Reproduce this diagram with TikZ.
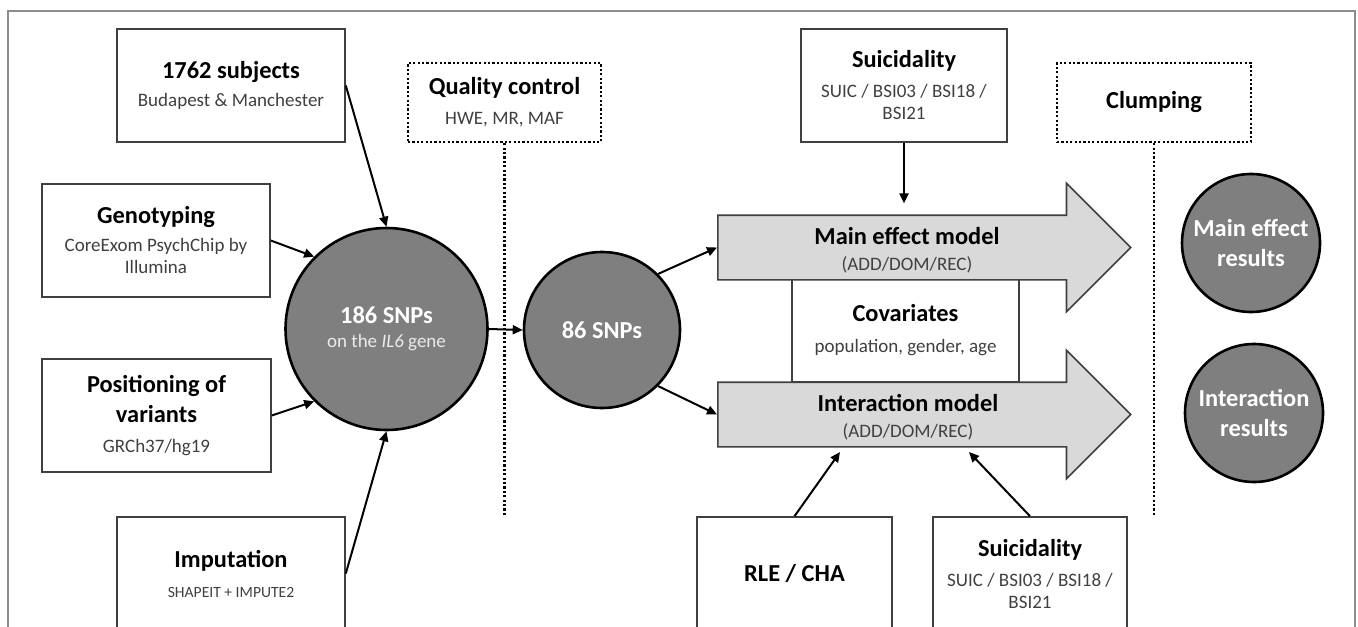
\documentclass[tikz,border=0pt]{standalone}
\usepackage{fontspec}
\setmainfont{Carlito}
\usetikzlibrary{%
  arrows.meta,%
  shapes.arrows%
}

\definecolor{framegray}{HTML}{8C8C8C}
\definecolor{boxline}{HTML}{404040}
\definecolor{subgray}{HTML}{404040}
\definecolor{snpfill}{HTML}{7F7F7F}
\definecolor{modelfill}{HTML}{D9D9D9}

\newcommand{\ttl}[1]{{\bfseries #1}}
\newcommand{\subtxt}[1]{{\fontsize{9.5}{11}\selectfont\color{subgray}#1}}

\begin{document}
\begin{tikzpicture}[x=0.5pt,y=-0.5pt,
    every node/.style={font=\fontsize{12.2}{14}\selectfont, align=center, inner sep=0pt},
    infobox/.style={rectangle, draw=boxline, line width=0.8pt, fill=white, minimum height=56.5pt},
    qcbox/.style={rectangle, draw=black, line width=1.1pt, dash pattern=on 1.1pt off 1.1pt, minimum height=39.5pt},
    qcline/.style={line width=1.1pt, dash pattern=on 1.1pt off 1.1pt},
    snp/.style={circle, draw=black, line width=1.3pt, fill=snpfill, text=white, font=\fontsize{12.2}{14}\selectfont\bfseries},
    model/.style={single arrow, draw=boxline, line width=0.8pt, fill=modelfill,
      inner xsep=0pt, inner ysep=15.75pt,
      single arrow head extend=16pt, single arrow head indent=0pt,
      minimum height=206.5pt, anchor=tail},
    conn/.style={-{Triangle[length=5pt,width=4.5pt]}, line width=1pt}
  ]
  \useasboundingbox (0,0) rectangle (1358,626);
  \clip (0,0) rectangle (1358,626);
  \draw [framegray, line width=1pt] (8,640) -- (8,11) -- (1355,11) -- (1355,640);

  % inputs
  \node [infobox, minimum width=114pt] (subj) at (231,85.5)
    {\ttl{1762 subjects}\\\subtxt{Budapest \& Manchester}};
  \node [infobox, minimum width=114pt] (geno) at (156,240.5)
    {\ttl{Genotyping}\\\subtxt{CoreExom PsychChip by}\\[-3pt]\subtxt{Illumina}};
  \node [infobox, minimum width=114.5pt] (pos) at (156.5,415.5)
    {\ttl{Positioning of}\\[1pt]\ttl{variants}\\[1pt]\subtxt{GRCh37/hg19}};
  \node [infobox, minimum width=114pt] (imp) at (231,573.5)
    {\ttl{Imputation}\\[1pt]{\fontsize{7.8}{9}\selectfont\color{subgray}SHAPEIT + IMPUTE2}};

  % filtering
  \node [qcbox, minimum width=96.5pt] (qc) at (504.5,102.5)
    {\ttl{Quality control}\\[1pt]\subtxt{HWE, MR, MAF}};
  \node [qcbox, minimum width=97pt] (clump) at (1154,102.5) {\ttl{Clumping}};
  \draw [qcline] (qc.south) -- (qc.south |- imp.north);
  \draw [qcline] (clump.south) -- (clump.south |- imp.north);

  \node [snp, minimum size=101pt] (snp186) at (386.5,329)
    {186 SNPs\\[-2pt]{\fontsize{9.5}{11}\selectfont\mdseries\color{white!92!black}on the \textit{IL6} gene}};
  \node [snp, minimum size=78pt] (snp86) at (602,330) {86 SNPs};

  % models
  \node [infobox, minimum width=113.5pt, minimum height=51.5pt] (cov) at (905.5,330.5)
    {\ttl{Covariates}\\[1.5pt]\subtxt{population, gender, age}};
  \node [model] (mainarr) at (717,247.5) {};
  \node [model] (intarr) at (717,414.5) {};
  \node (mainlbl) at (907,250) {\ttl{Main effect model}\\[-1pt]\subtxt{(ADD/DOM/REC)}};
  \node (intlbl) at (908,417.5) {\ttl{Interaction model}\\[-1pt]\subtxt{(ADD/DOM/REC)}};

  \node [infobox, minimum width=103pt] (suic1) at (904,85.5)
    {\ttl{Suicidality}\\[1pt]\subtxt{SUIC / BSI03 / BSI18 /}\\[-3pt]\subtxt{BSI21}};
  \node [infobox, minimum width=97.5pt] (rle) at (794.5,573.5) {\ttl{RLE / CHA}};
  \node [infobox, minimum width=97pt] (suic2) at (1030,573.5)
    {\ttl{Suicidality}\\[1pt]\subtxt{SUIC / BSI03 / BSI18 /}\\[-3pt]\subtxt{BSI21}};

  \node [snp, minimum size=69pt] (resmain) at (1251,243) {Main effect\\[1pt]results};
  \node [snp, minimum size=69pt] (resint) at (1254,413) {Interaction\\[1pt]results};

  \coordinate (rleto) at (840,452);
  \coordinate (suicto) at (969,452);

  % connectors
  \draw [conn] (subj.east) -- (snp186.north);
  \draw [conn] (geno.east) -- (snp186.135);
  \draw [conn] (pos.east) -- (snp186.225);
  \draw [conn] (imp.east) -- (snp186.south);
  \draw [conn] (snp186.east) -- (snp86.west);
  \draw [conn] (snp86.45) -- (mainarr.tail);
  \draw [conn] (snp86.-45) -- (intarr.tail);
  \draw [conn, shorten >=5.5pt] (suic1.south) -- (suic1.south |- mainarr.north);
  \draw [conn] (rle.north) -- (rleto);
  \draw [conn] (suic2.north) -- (suicto);
\end{tikzpicture}
\end{document}
